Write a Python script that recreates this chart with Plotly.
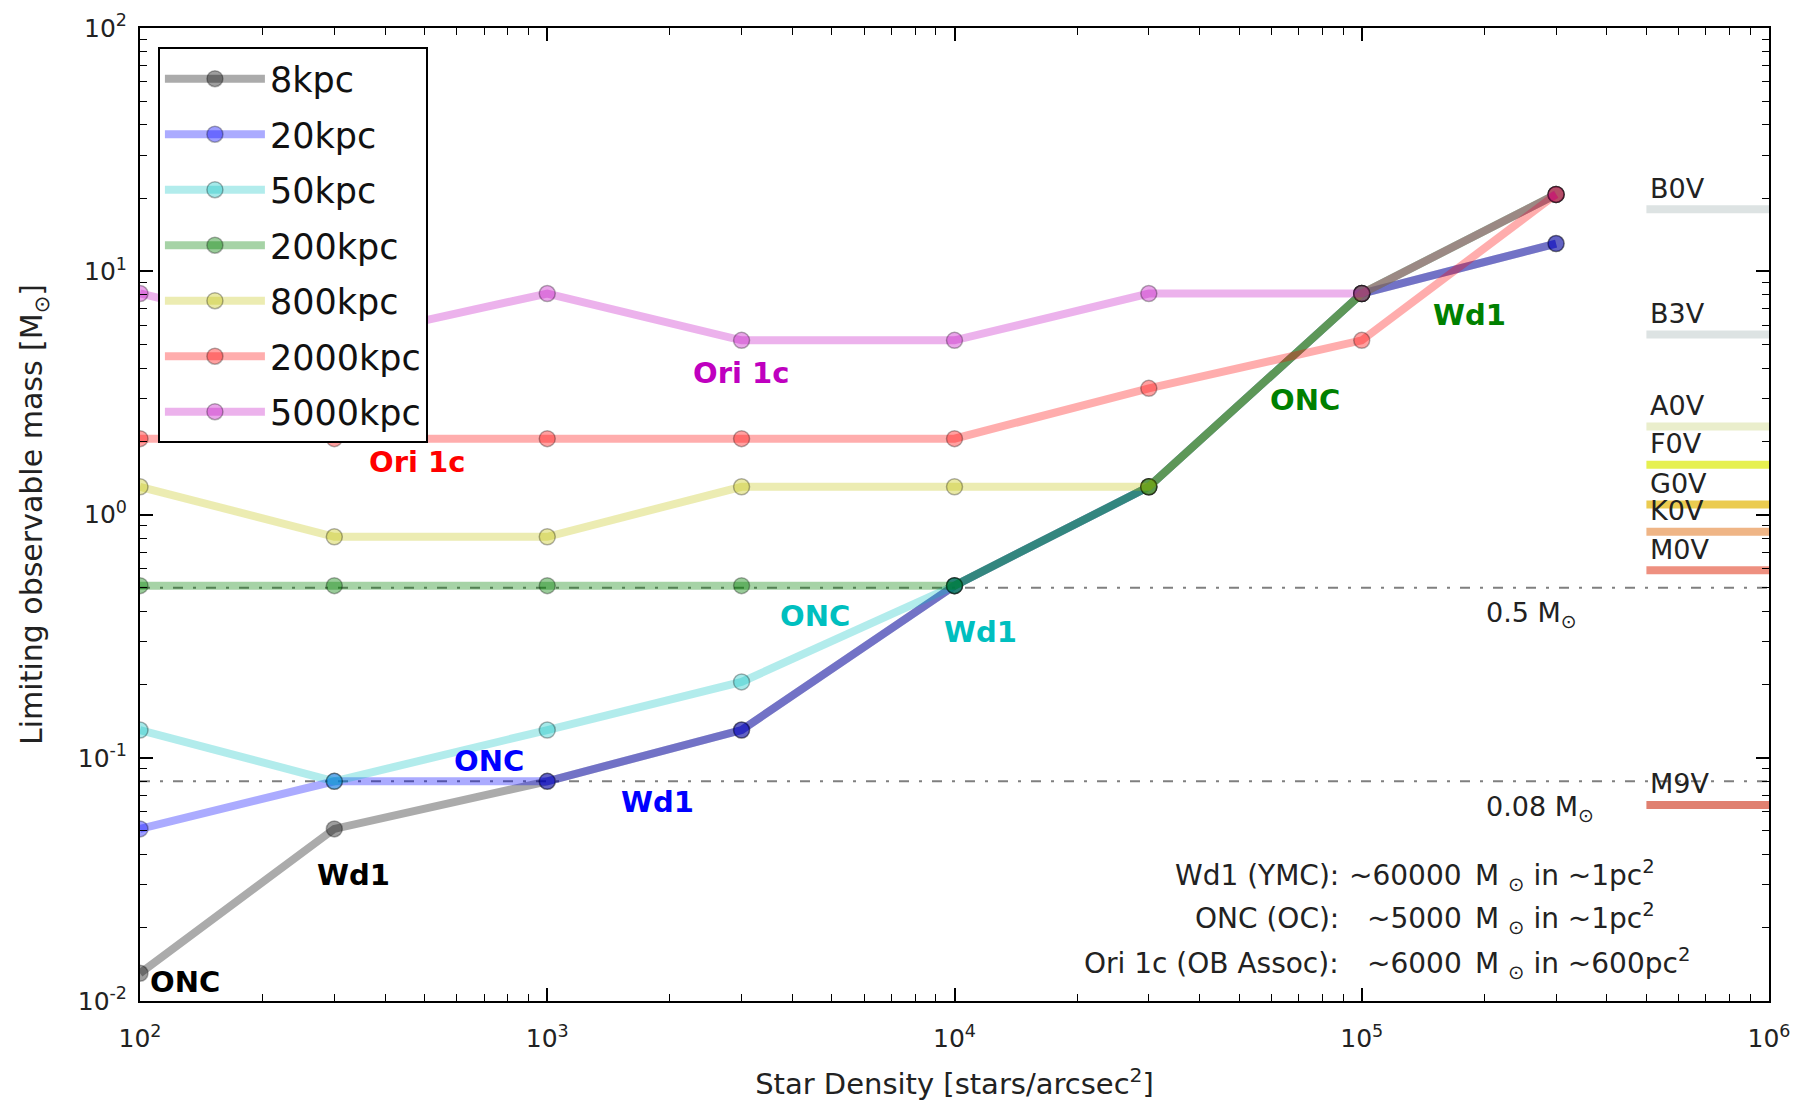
import numpy as np
import plotly.graph_objects as go

# ---------------- data ----------------
density = [1e2, 3e2, 1e3, 3e3, 1e4, 3e4, 1e5, 3e5]
series_names = ["8kpc", "20kpc", "50kpc", "200kpc", "800kpc", "2000kpc", "5000kpc"]
mass_8kpc = [0.013, 0.051, 0.08, 0.13, 0.51, 1.3, 8.1, 13.0]
mass_20kpc = [0.051, 0.08, 0.08, 0.13, 0.51, 1.3, 8.1, 13.0]
mass_50kpc = [0.13, 0.08, 0.13, 0.205, 0.51, 1.3, 8.1, 20.7]
mass_200kpc = [0.51, 0.51, 0.51, 0.51, 0.51, 1.3, 8.1, 20.7]
mass_800kpc = [1.3, 0.81, 0.81, 1.3, 1.3, 1.3, 8.1, 20.7]
mass_2000kpc = [2.05, 2.05, 2.05, 2.05, 2.05, 3.3, 5.2, 20.7]
mass_5000kpc = [8.1, 5.2, 8.1, 5.2, 5.2, 8.1, 8.1, 20.7]
series_values = [mass_8kpc, mass_20kpc, mass_50kpc, mass_200kpc,
                 mass_800kpc, mass_2000kpc, mass_5000kpc]

spec_types = ["B0V", "B3V", "A0V", "F0V", "G0V", "K0V", "M0V", "M9V"]
spec_masses = [18.0, 5.5, 2.3, 1.6, 1.1, 0.85, 0.59, 0.064]
spec_x = [5e5, 1e6]

limit_masses = [0.5, 0.08]
limit_labels = ["0.5 M<sub>⊙</sub>", "0.08 M<sub>⊙</sub>"]

x_tickvals = [1e2, 1e3, 1e4, 1e5, 1e6]
x_ticktext = ["10<sup>2</sup>", "10<sup>3</sup>", "10<sup>4</sup>", "10<sup>5</sup>", "10<sup>6</sup>"]
y_tickvals = [1e-2, 1e-1, 1e0, 1e1, 1e2]
y_ticktext = ["10<sup>-2</sup>", "10<sup>-1</sup>", "10<sup>0</sup>", "10<sup>1</sup>", "10<sup>2</sup>"]

# ---------------- styles ----------------
base_rgb = [(0, 0, 0), (0, 0, 255), (0, 191, 191), (0, 128, 0),
            (191, 191, 0), (255, 0, 0), (191, 0, 191)]
line_alpha = [0.33, 0.33, 0.3, 0.35, 0.3, 0.32, 0.3]
spec_colors = ["#dde3e3", "#dde3e3", "#eaeecc", "#e6f050", "#ebcb50",
               "#efb586", "#ee9080", "#e08070"]

FONT = "DejaVu Sans"
TXT = "#222"
fig = go.Figure()

# spectral type bands
for name, m, c in zip(spec_types, spec_masses, spec_colors):
    fig.add_trace(go.Scatter(x=spec_x, y=[m, m], mode="lines",
                             line=dict(color=c, width=8), showlegend=False,
                             hoverinfo="skip"))
    fig.add_annotation(x=np.log10(spec_x[0]) + 0.005, y=np.log10(m), text=name,
                       showarrow=False, xanchor="left", yanchor="middle",
                       yshift=21, font=dict(family=FONT, size=27, color=TXT))

# limit lines
for m, lab in zip(limit_masses, limit_labels):
    fig.add_trace(go.Scatter(x=[1e2, 1e6], y=[m, m], mode="lines",
                             line=dict(color="rgba(0,0,0,0.5)", width=2,
                                       dash="10px,10px,3px,10px"),
                             showlegend=False, hoverinfo="skip"))
    fig.add_annotation(x=np.log10(2e5), y=np.log10(m), text=lab, showarrow=False,
                       xanchor="left", yanchor="middle", yshift=-27,
                       font=dict(family=FONT, size=27, color=TXT))

# data series
for i, (name, vals) in enumerate(zip(series_names, series_values)):
    r, g, b = base_rgb[i]
    a = line_alpha[i]
    fig.add_trace(go.Scatter(
        x=density, y=vals, mode="lines+markers", name=name,
        legendgroup=name,
        line=dict(color=f"rgba({r},{g},{b},{a})", width=8),
        marker=dict(size=16, color=f"rgba({r},{g},{b},{a + 0.05})",
                    line=dict(color="rgba(0,0,0,0.3)", width=1.5)),
    ))

# cluster labels (bold, coloured)
labels = [
    ("ONC", 2.02, -1.922, "black"),
    ("Wd1", 2.43, -1.484, "black"),
    ("ONC", 2.765, -1.012, "blue"),
    ("Wd1", 3.175, -1.18, "blue"),
    ("ONC", 3.567, -0.418, "#00bfbf"),
    ("Wd1", 3.969, -0.484, "#00bfbf"),
    ("ONC", 4.769, 0.471, "green"),
    ("Wd1", 5.17, 0.82, "green"),
    ("Ori 1c", 2.558, 0.217, "red"),
    ("Ori 1c", 3.353, 0.582, "#bf00bf"),
]
for txt, lx, ly, col in labels:
    fig.add_annotation(x=lx, y=ly, text=f"<b>{txt}</b>", showarrow=False,
                       xanchor="left", yanchor="middle",
                       font=dict(family=FONT, size=29, color=col))

# cluster info text
info_rows = [
    ("Wd1 (YMC):", "~60000", "M <sub>⊙</sub> in ~1pc<sup>2</sup>", -1.484),
    ("ONC (OC):", "~5000", "M <sub>⊙</sub> in ~1pc<sup>2</sup>", -1.66),
    ("Ori 1c (OB Assoc):", "~6000", "M <sub>⊙</sub> in ~600pc<sup>2</sup>", -1.845),
]
for lab, num, rest, ly in info_rows:
    fig.add_annotation(x=4.949, y=ly, text=lab, showarrow=False, xanchor="right",
                       yanchor="middle", font=dict(family=FONT, size=28, color=TXT))
    fig.add_annotation(x=5.25, y=ly, text=num, showarrow=False, xanchor="right",
                       yanchor="middle", font=dict(family=FONT, size=28, color=TXT))
    fig.add_annotation(x=5.272, y=ly, text=rest, showarrow=False, xanchor="left",
                       yanchor="middle", font=dict(family=FONT, size=28, color=TXT))

axis_common = dict(
    showline=True, linecolor="black", linewidth=2, mirror="allticks",
    ticks="inside", ticklen=13, tickwidth=1.5, tickcolor="black",
    showgrid=False, zeroline=False, automargin=False,
    minor=dict(ticks="inside", ticklen=7, tickwidth=1, tickcolor="black",
               showgrid=False, dtick="D1"),
    tickfont=dict(family=FONT, size=25, color=TXT),
)

fig.update_xaxes(type="log", range=[2, 6], tickvals=x_tickvals, ticktext=x_ticktext,
                 ticklabelstandoff=14,
                 title=dict(text="Star Density [stars/arcsec<sup>2</sup>]",
                            font=dict(family=FONT, size=29, color=TXT), standoff=22),
                 **axis_common)
fig.update_yaxes(type="log", range=[-2, 2], tickvals=y_tickvals, ticktext=y_ticktext,
                 ticklabelstandoff=6,
                 title=dict(text="Limiting observable mass [M<sub>⊙</sub>]",
                            font=dict(family=FONT, size=30, color=TXT), standoff=26),
                 **axis_common)

fig.update_layout(
    width=1805, height=1102,
    margin=dict(l=140, r=36, t=28, b=101, autoexpand=False),
    paper_bgcolor="white", plot_bgcolor="white",
    font=dict(family=FONT, color=TXT),
    legend=dict(x=0.011, y=0.98, xanchor="left", yanchor="top",
                bgcolor="white", bordercolor="black", borderwidth=2,
                font=dict(family=FONT, size=35, color="#111"),
                itemwidth=100, tracegroupgap=7),
    showlegend=True,
)

fig.write_html("out.html")
